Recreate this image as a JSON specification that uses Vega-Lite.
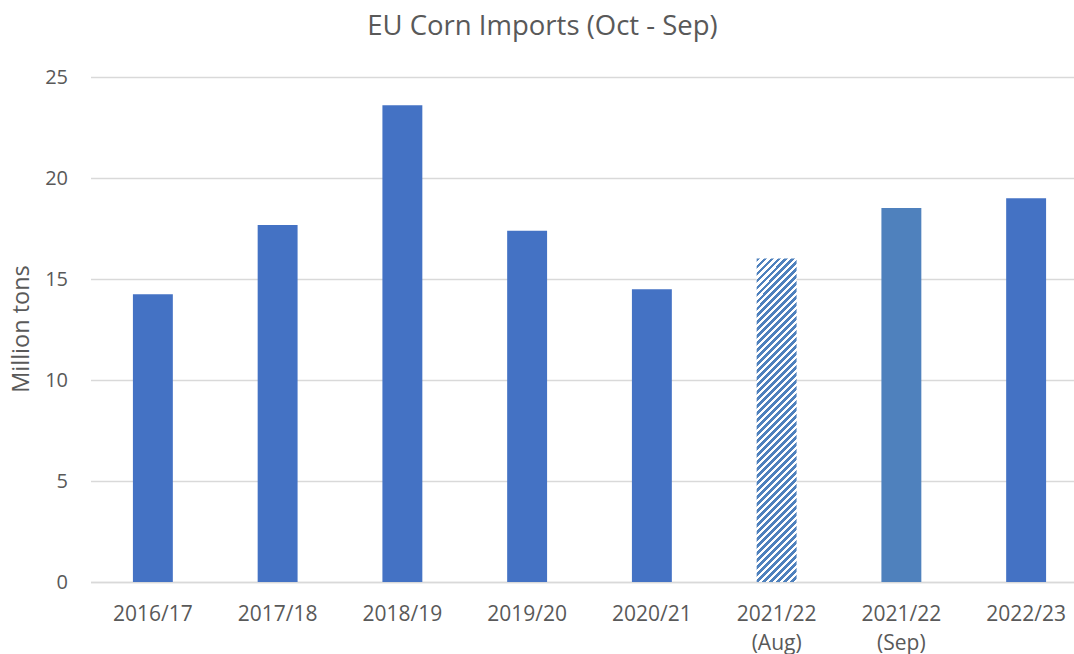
{
  "$schema": "https://vega.github.io/schema/vega-lite/v6.json",
  "width": 983,
  "height": 505,
  "autosize": {"type": "none"},
  "padding": {"left": 90.5, "top": 77, "right": 0, "bottom": 72},
  "background": "#ffffff",
  "config": {"view": {"stroke": null}, "font": "Open Sans"},
  "title": {
    "text": "EU Corn Imports (Oct - Sep)",
    "font": "Open Sans",
    "fontSize": 27.5,
    "fontWeight": "normal",
    "color": "#595959",
    "anchor": "middle",
    "frame": "group",
    "dx": -39.5,
    "offset": 27
  },
  "data": {
    "values": [
      {"season": "2016/17", "value": 14.24, "kind": "final"},
      {"season": "2017/18", "value": 17.67, "kind": "final"},
      {"season": "2018/19", "value": 23.6, "kind": "final"},
      {"season": "2019/20", "value": 17.39, "kind": "final"},
      {"season": "2020/21", "value": 14.49, "kind": "final"},
      {"season": "2021/22 (Aug)", "value": 16.02, "kind": "aug"},
      {"season": "2021/22 (Sep)", "value": 18.51, "kind": "sep"},
      {"season": "2022/23", "value": 19.0, "kind": "final"}
    ]
  },
  "encoding": {
    "x": {
      "field": "season",
      "type": "nominal",
      "sort": null,
      "scale": {
        "domain": ["2016/17", "2017/18", "2018/19", "2019/20", "2020/21", "2021/22 (Aug)", "2021/22 (Sep)", "2022/23"],
        "range": [0, 998],
        "paddingInner": 0.68,
        "paddingOuter": 0.34
      },
      "axis": {
        "title": null,
        "labelAngle": 0,
        "labelExpr": "split(datum.label, ' ')",
        "labelFont": "Open Sans",
        "labelFontSize": 21,
        "labelColor": "#595959",
        "labelPadding": 21,
        "labelLineHeight": 29,
        "ticks": false,
        "domain": true,
        "domainColor": "#d9d9d9",
        "domainWidth": 1.5,
        "grid": false
      }
    },
    "y": {
      "field": "value",
      "type": "quantitative",
      "scale": {"domain": [0, 25], "nice": false},
      "axis": {
        "values": [0, 5, 10, 15, 20, 25],
        "title": "Million tons",
        "titleFont": "Open Sans",
        "titleFontSize": 23.5,
        "titleFontWeight": "normal",
        "titleColor": "#595959",
        "titleAngle": 270,
        "titleAlign": "center",
        "titleBaseline": "middle",
        "titleX": -69,
        "titleY": 251.5,
        "labelFont": "Open Sans",
        "labelFontSize": 20,
        "labelColor": "#595959",
        "labelPadding": 23,
        "ticks": false,
        "domain": false,
        "grid": true,
        "gridColor": "#d9d9d9",
        "gridWidth": 1.5
      }
    }
  },
  "layer": [
    {
      "transform": [{"filter": "datum.kind != 'aug'"}],
      "mark": {"type": "bar"},
      "encoding": {
        "color": {
          "field": "kind",
          "type": "nominal",
          "scale": {"domain": ["final", "sep"], "range": ["#4472c4", "#4f81bd"]},
          "legend": null
        }
      }
    },
    {
      "transform": [{"filter": "datum.kind == 'aug'"}],
      "mark": {
        "type": "bar",
        "fill": {
          "gradient": "linear",
          "x1": 0, "y1": 0, "x2": 0.1367, "y2": 1.1066,
          "stops": [
            {"offset": 0, "color": "#4f81bd"}, {"offset": 0.00962, "color": "#4f81bd"}, {"offset": 0.00962, "color": "#ffffff"}, {"offset": 0.01923, "color": "#ffffff"},
            {"offset": 0.01923, "color": "#4f81bd"}, {"offset": 0.02885, "color": "#4f81bd"}, {"offset": 0.02885, "color": "#ffffff"}, {"offset": 0.03846, "color": "#ffffff"},
            {"offset": 0.03846, "color": "#4f81bd"}, {"offset": 0.04808, "color": "#4f81bd"}, {"offset": 0.04808, "color": "#ffffff"}, {"offset": 0.05769, "color": "#ffffff"},
            {"offset": 0.05769, "color": "#4f81bd"}, {"offset": 0.06731, "color": "#4f81bd"}, {"offset": 0.06731, "color": "#ffffff"}, {"offset": 0.07692, "color": "#ffffff"},
            {"offset": 0.07692, "color": "#4f81bd"}, {"offset": 0.08654, "color": "#4f81bd"}, {"offset": 0.08654, "color": "#ffffff"}, {"offset": 0.09615, "color": "#ffffff"},
            {"offset": 0.09615, "color": "#4f81bd"}, {"offset": 0.10577, "color": "#4f81bd"}, {"offset": 0.10577, "color": "#ffffff"}, {"offset": 0.11538, "color": "#ffffff"},
            {"offset": 0.11538, "color": "#4f81bd"}, {"offset": 0.125, "color": "#4f81bd"}, {"offset": 0.125, "color": "#ffffff"}, {"offset": 0.13462, "color": "#ffffff"},
            {"offset": 0.13462, "color": "#4f81bd"}, {"offset": 0.14423, "color": "#4f81bd"}, {"offset": 0.14423, "color": "#ffffff"}, {"offset": 0.15385, "color": "#ffffff"},
            {"offset": 0.15385, "color": "#4f81bd"}, {"offset": 0.16346, "color": "#4f81bd"}, {"offset": 0.16346, "color": "#ffffff"}, {"offset": 0.17308, "color": "#ffffff"},
            {"offset": 0.17308, "color": "#4f81bd"}, {"offset": 0.18269, "color": "#4f81bd"}, {"offset": 0.18269, "color": "#ffffff"}, {"offset": 0.19231, "color": "#ffffff"},
            {"offset": 0.19231, "color": "#4f81bd"}, {"offset": 0.20192, "color": "#4f81bd"}, {"offset": 0.20192, "color": "#ffffff"}, {"offset": 0.21154, "color": "#ffffff"},
            {"offset": 0.21154, "color": "#4f81bd"}, {"offset": 0.22115, "color": "#4f81bd"}, {"offset": 0.22115, "color": "#ffffff"}, {"offset": 0.23077, "color": "#ffffff"},
            {"offset": 0.23077, "color": "#4f81bd"}, {"offset": 0.24038, "color": "#4f81bd"}, {"offset": 0.24038, "color": "#ffffff"}, {"offset": 0.25, "color": "#ffffff"},
            {"offset": 0.25, "color": "#4f81bd"}, {"offset": 0.25962, "color": "#4f81bd"}, {"offset": 0.25962, "color": "#ffffff"}, {"offset": 0.26923, "color": "#ffffff"},
            {"offset": 0.26923, "color": "#4f81bd"}, {"offset": 0.27885, "color": "#4f81bd"}, {"offset": 0.27885, "color": "#ffffff"}, {"offset": 0.28846, "color": "#ffffff"},
            {"offset": 0.28846, "color": "#4f81bd"}, {"offset": 0.29808, "color": "#4f81bd"}, {"offset": 0.29808, "color": "#ffffff"}, {"offset": 0.30769, "color": "#ffffff"},
            {"offset": 0.30769, "color": "#4f81bd"}, {"offset": 0.31731, "color": "#4f81bd"}, {"offset": 0.31731, "color": "#ffffff"}, {"offset": 0.32692, "color": "#ffffff"},
            {"offset": 0.32692, "color": "#4f81bd"}, {"offset": 0.33654, "color": "#4f81bd"}, {"offset": 0.33654, "color": "#ffffff"}, {"offset": 0.34615, "color": "#ffffff"},
            {"offset": 0.34615, "color": "#4f81bd"}, {"offset": 0.35577, "color": "#4f81bd"}, {"offset": 0.35577, "color": "#ffffff"}, {"offset": 0.36538, "color": "#ffffff"},
            {"offset": 0.36538, "color": "#4f81bd"}, {"offset": 0.375, "color": "#4f81bd"}, {"offset": 0.375, "color": "#ffffff"}, {"offset": 0.38462, "color": "#ffffff"},
            {"offset": 0.38462, "color": "#4f81bd"}, {"offset": 0.39423, "color": "#4f81bd"}, {"offset": 0.39423, "color": "#ffffff"}, {"offset": 0.40385, "color": "#ffffff"},
            {"offset": 0.40385, "color": "#4f81bd"}, {"offset": 0.41346, "color": "#4f81bd"}, {"offset": 0.41346, "color": "#ffffff"}, {"offset": 0.42308, "color": "#ffffff"},
            {"offset": 0.42308, "color": "#4f81bd"}, {"offset": 0.43269, "color": "#4f81bd"}, {"offset": 0.43269, "color": "#ffffff"}, {"offset": 0.44231, "color": "#ffffff"},
            {"offset": 0.44231, "color": "#4f81bd"}, {"offset": 0.45192, "color": "#4f81bd"}, {"offset": 0.45192, "color": "#ffffff"}, {"offset": 0.46154, "color": "#ffffff"},
            {"offset": 0.46154, "color": "#4f81bd"}, {"offset": 0.47115, "color": "#4f81bd"}, {"offset": 0.47115, "color": "#ffffff"}, {"offset": 0.48077, "color": "#ffffff"},
            {"offset": 0.48077, "color": "#4f81bd"}, {"offset": 0.49038, "color": "#4f81bd"}, {"offset": 0.49038, "color": "#ffffff"}, {"offset": 0.5, "color": "#ffffff"},
            {"offset": 0.5, "color": "#4f81bd"}, {"offset": 0.50962, "color": "#4f81bd"}, {"offset": 0.50962, "color": "#ffffff"}, {"offset": 0.51923, "color": "#ffffff"},
            {"offset": 0.51923, "color": "#4f81bd"}, {"offset": 0.52885, "color": "#4f81bd"}, {"offset": 0.52885, "color": "#ffffff"}, {"offset": 0.53846, "color": "#ffffff"},
            {"offset": 0.53846, "color": "#4f81bd"}, {"offset": 0.54808, "color": "#4f81bd"}, {"offset": 0.54808, "color": "#ffffff"}, {"offset": 0.55769, "color": "#ffffff"},
            {"offset": 0.55769, "color": "#4f81bd"}, {"offset": 0.56731, "color": "#4f81bd"}, {"offset": 0.56731, "color": "#ffffff"}, {"offset": 0.57692, "color": "#ffffff"},
            {"offset": 0.57692, "color": "#4f81bd"}, {"offset": 0.58654, "color": "#4f81bd"}, {"offset": 0.58654, "color": "#ffffff"}, {"offset": 0.59615, "color": "#ffffff"},
            {"offset": 0.59615, "color": "#4f81bd"}, {"offset": 0.60577, "color": "#4f81bd"}, {"offset": 0.60577, "color": "#ffffff"}, {"offset": 0.61538, "color": "#ffffff"},
            {"offset": 0.61538, "color": "#4f81bd"}, {"offset": 0.625, "color": "#4f81bd"}, {"offset": 0.625, "color": "#ffffff"}, {"offset": 0.63462, "color": "#ffffff"},
            {"offset": 0.63462, "color": "#4f81bd"}, {"offset": 0.64423, "color": "#4f81bd"}, {"offset": 0.64423, "color": "#ffffff"}, {"offset": 0.65385, "color": "#ffffff"},
            {"offset": 0.65385, "color": "#4f81bd"}, {"offset": 0.66346, "color": "#4f81bd"}, {"offset": 0.66346, "color": "#ffffff"}, {"offset": 0.67308, "color": "#ffffff"},
            {"offset": 0.67308, "color": "#4f81bd"}, {"offset": 0.68269, "color": "#4f81bd"}, {"offset": 0.68269, "color": "#ffffff"}, {"offset": 0.69231, "color": "#ffffff"},
            {"offset": 0.69231, "color": "#4f81bd"}, {"offset": 0.70192, "color": "#4f81bd"}, {"offset": 0.70192, "color": "#ffffff"}, {"offset": 0.71154, "color": "#ffffff"},
            {"offset": 0.71154, "color": "#4f81bd"}, {"offset": 0.72115, "color": "#4f81bd"}, {"offset": 0.72115, "color": "#ffffff"}, {"offset": 0.73077, "color": "#ffffff"},
            {"offset": 0.73077, "color": "#4f81bd"}, {"offset": 0.74038, "color": "#4f81bd"}, {"offset": 0.74038, "color": "#ffffff"}, {"offset": 0.75, "color": "#ffffff"},
            {"offset": 0.75, "color": "#4f81bd"}, {"offset": 0.75962, "color": "#4f81bd"}, {"offset": 0.75962, "color": "#ffffff"}, {"offset": 0.76923, "color": "#ffffff"},
            {"offset": 0.76923, "color": "#4f81bd"}, {"offset": 0.77885, "color": "#4f81bd"}, {"offset": 0.77885, "color": "#ffffff"}, {"offset": 0.78846, "color": "#ffffff"},
            {"offset": 0.78846, "color": "#4f81bd"}, {"offset": 0.79808, "color": "#4f81bd"}, {"offset": 0.79808, "color": "#ffffff"}, {"offset": 0.80769, "color": "#ffffff"},
            {"offset": 0.80769, "color": "#4f81bd"}, {"offset": 0.81731, "color": "#4f81bd"}, {"offset": 0.81731, "color": "#ffffff"}, {"offset": 0.82692, "color": "#ffffff"},
            {"offset": 0.82692, "color": "#4f81bd"}, {"offset": 0.83654, "color": "#4f81bd"}, {"offset": 0.83654, "color": "#ffffff"}, {"offset": 0.84615, "color": "#ffffff"},
            {"offset": 0.84615, "color": "#4f81bd"}, {"offset": 0.85577, "color": "#4f81bd"}, {"offset": 0.85577, "color": "#ffffff"}, {"offset": 0.86538, "color": "#ffffff"},
            {"offset": 0.86538, "color": "#4f81bd"}, {"offset": 0.875, "color": "#4f81bd"}, {"offset": 0.875, "color": "#ffffff"}, {"offset": 0.88462, "color": "#ffffff"},
            {"offset": 0.88462, "color": "#4f81bd"}, {"offset": 0.89423, "color": "#4f81bd"}, {"offset": 0.89423, "color": "#ffffff"}, {"offset": 0.90385, "color": "#ffffff"},
            {"offset": 0.90385, "color": "#4f81bd"}, {"offset": 0.91346, "color": "#4f81bd"}, {"offset": 0.91346, "color": "#ffffff"}, {"offset": 0.92308, "color": "#ffffff"},
            {"offset": 0.92308, "color": "#4f81bd"}, {"offset": 0.93269, "color": "#4f81bd"}, {"offset": 0.93269, "color": "#ffffff"}, {"offset": 0.94231, "color": "#ffffff"},
            {"offset": 0.94231, "color": "#4f81bd"}, {"offset": 0.95192, "color": "#4f81bd"}, {"offset": 0.95192, "color": "#ffffff"}, {"offset": 0.96154, "color": "#ffffff"},
            {"offset": 0.96154, "color": "#4f81bd"}, {"offset": 0.97115, "color": "#4f81bd"}, {"offset": 0.97115, "color": "#ffffff"}, {"offset": 0.98077, "color": "#ffffff"},
            {"offset": 0.98077, "color": "#4f81bd"}, {"offset": 0.99038, "color": "#4f81bd"}, {"offset": 0.99038, "color": "#ffffff"}, {"offset": 1, "color": "#ffffff"}
          ]
        }
      }
    }
  ]
}
